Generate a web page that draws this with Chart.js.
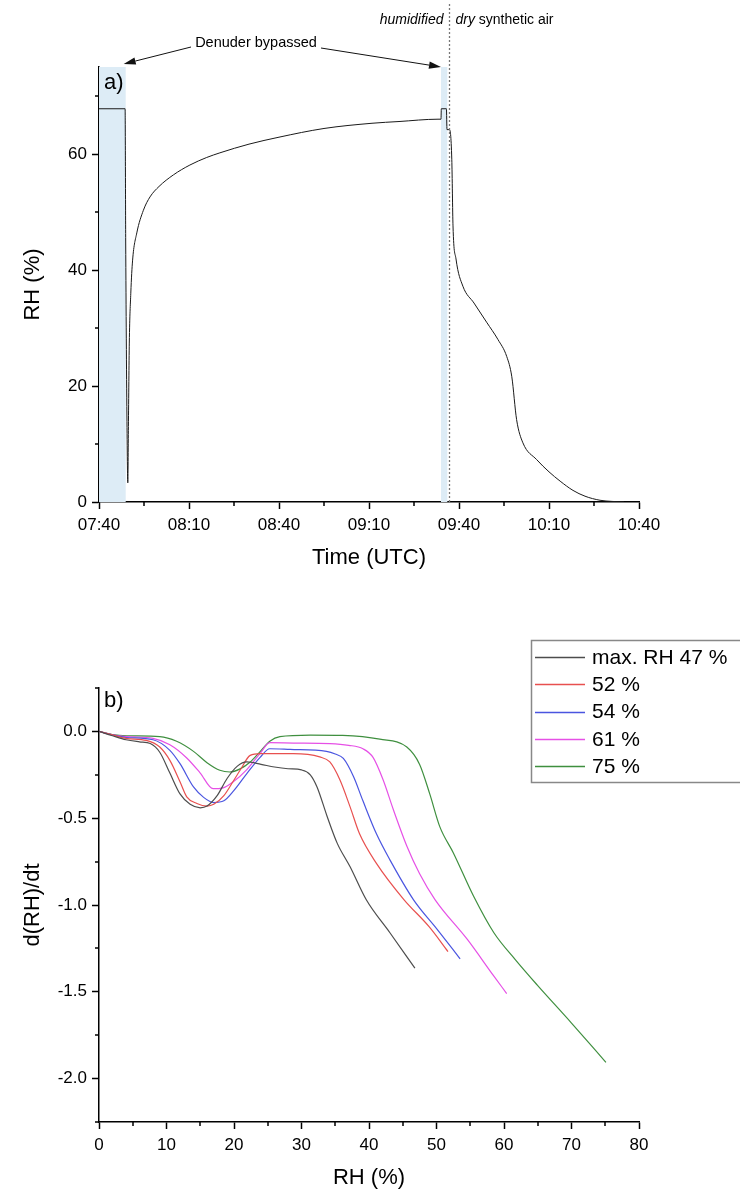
<!DOCTYPE html>
<html>
<head>
<meta charset="utf-8">
<script src="https://cdn.jsdelivr.net/npm/chart.js@4.4.1/dist/chart.umd.min.js"></script>
<style>
  html, body { margin: 0; padding: 0; background: #fff; }
  #wrap { position: relative; width: 740px; height: 1193px; overflow: hidden; }
  canvas { position: absolute; left: 0; }
  #rhTime { top: 0; }
  #rhRate { top: 600px; }
</style>
</head>
<body>
<div id="wrap">
  <canvas id="rhTime" width="740" height="600" style="width:740px;height:600px"></canvas>
  <canvas id="rhRate" width="740" height="593" style="width:740px;height:593px"></canvas>
</div>
<script>
// ---------- panel a): RH over time (minutes after 07:40 UTC) ----------
const timeMin = [0, 8.7, 8.9, 9.3, 9.6, 9.8, 10.1, 10.6, 11.2, 12.6, 14.8, 17, 20, 24.8, 30.3, 35.9, 40.3,
  50, 60, 75, 91, 100, 113, 114, 114.1, 115.8, 116, 116.8, 117.6, 118, 119, 121.3, 125, 129.2, 133,
  135.9, 137.6, 139.2, 141.3, 145.9, 150, 153.7, 158, 162, 167, 171, 175];
const rhPct = [67.8, 67.8, 45, 15, 3.3, 13, 27.4, 36, 41.7, 46.4, 50.3, 52.6, 54.4, 56.4, 58.1, 59.4, 60.2,
  61.7, 62.9, 64.4, 65.3, 65.6, 66, 66, 67.8, 67.8, 64.2, 64.2, 59, 47.6, 41.9, 37.2, 34.3, 31, 28,
  25.1, 21.6, 14.2, 10.2, 7.3, 5.2, 3.6, 2.0, 1.0, 0.3, 0.1, 0];
const timeTicks = [0, 30, 60, 90, 120, 150, 180];
const timeTickLabels = ['07:40', '08:10', '08:40', '09:10', '09:40', '10:10', '10:40'];
const rhTicks = [0, 20, 40, 60];
const bypassBands = [[0, 8.9], [114, 116.1]];   // denuder bypassed intervals (min)
const airSwitchMin = 116.8;                      // humidified -> dry synthetic air

// ---------- panel b): d(RH)/dt against RH ----------
const rh47 = [0, 2, 4, 6, 7.6, 9, 10.5, 12, 13.5, 15, 16, 17.5, 19, 20.5, 21.9, 24, 26, 28, 30, 31.3, 32.3, 33.8, 35.3, 37.2, 39.6, 43.1, 46.8];
const d47  = [0, -0.025, -0.048, -0.06, -0.07, -0.12, -0.24, -0.36, -0.42, -0.44, -0.43, -0.37, -0.27, -0.2, -0.176, -0.19, -0.205, -0.215, -0.222, -0.25, -0.32, -0.49, -0.645, -0.78, -0.97, -1.16, -1.364];
const rh52 = [0, 2, 4, 7, 9, 10.5, 12, 13, 14.5, 16, 17, 18.5, 20, 20.9, 22.4, 23.9, 28.8, 32.7, 34.2, 35.7, 37.2, 38.6, 41.1, 45.2, 48.9, 51.7];
const d52  = [0, -0.02, -0.04, -0.052, -0.09, -0.167, -0.29, -0.377, -0.415, -0.43, -0.42, -0.37, -0.28, -0.224, -0.138, -0.128, -0.128, -0.147, -0.176, -0.28, -0.435, -0.59, -0.76, -0.97, -1.125, -1.268];
const rh54 = [0, 2, 4, 8, 10.5, 12, 14, 15.5, 17, 18.5, 20, 21.9, 23.9, 25.3, 28.3, 33.7, 35, 36.2, 37.7, 39.1, 41.1, 43.1, 46.6, 50.1, 53.5];
const d54  = [0, -0.02, -0.035, -0.048, -0.109, -0.186, -0.32, -0.38, -0.41, -0.4, -0.34, -0.243, -0.148, -0.1, -0.104, -0.115, -0.13, -0.156, -0.26, -0.4, -0.59, -0.74, -0.97, -1.14, -1.31];
const rh61 = [0, 2, 4.1, 8, 10.5, 13, 15, 16.9, 18.4, 19.9, 21.9, 23.9, 25.3, 28.8, 34.2, 37, 39.1, 40.6, 42.1, 43.6, 45.6, 47.5, 49.8, 54.6, 58.5, 60.4];
const d61  = [0, -0.02, -0.03, -0.04, -0.077, -0.153, -0.24, -0.33, -0.325, -0.29, -0.22, -0.125, -0.065, -0.067, -0.07, -0.08, -0.1, -0.15, -0.28, -0.45, -0.66, -0.82, -0.97, -1.2, -1.41, -1.51];
const rh75 = [0, 2, 4.1, 9, 11.5, 14, 16, 17.9, 19.4, 20.9, 22.4, 23.9, 25.3, 26.8, 31.3, 36.1, 41.6, 45.6, 47.5, 49, 50.5, 52.5, 55.5, 58.5, 61.7, 64.9, 70, 75.1];
const d75  = [0, -0.018, -0.025, -0.03, -0.057, -0.115, -0.18, -0.224, -0.234, -0.216, -0.176, -0.115, -0.057, -0.03, -0.021, -0.023, -0.045, -0.09, -0.19, -0.36, -0.55, -0.7, -0.95, -1.16, -1.316, -1.46, -1.68, -1.906];
const seriesLabels = ['max. RH 47 %', '52 %', '54 %', '61 %', '75 %'];
const seriesColors = ['#4d4d4d', '#e8504f', '#4a55e0', '#e650e6', '#3f8f3f'];
const rhAxisTicks = [0, 10, 20, 30, 40, 50, 60, 70, 80];
const rateTicks = [-2, -1.5, -1, -0.5, 0];

const FONT = "'Liberation Sans', Arial, sans-serif";
const pts = (xs, ys) => xs.map((x, i) => ({ x, y: ys[i] }));
const fixTicks = values => axis => { axis.ticks = values.map(v => ({ value: v })); };

// small outward ticks between the labelled ones
const minorTicks = {
  id: 'minorTicks',
  afterDraw(chart, args, opts) {
    const { ctx, chartArea: ca } = chart;
    const xs = chart.scales.x, ys = chart.scales.y;
    ctx.save();
    ctx.strokeStyle = '#000';
    ctx.lineWidth = 1.5;
    ctx.beginPath();
    opts.x.forEach(v => {
      const p = Math.round(xs.getPixelForValue(v));
      ctx.moveTo(p, ca.bottom); ctx.lineTo(p, ca.bottom + 4);
    });
    opts.y.forEach(v => {
      const p = Math.round(ys.getPixelForValue(v));
      ctx.moveTo(ca.left, p); ctx.lineTo(ca.left - 4, p);
    });
    ctx.stroke();
    ctx.restore();
  }
};

function arrow(ctx, x0, y0, x1, y1) {
  const a = Math.atan2(y1 - y0, x1 - x0), L = 12, W = 3.6;
  const bx = x1 - L * Math.cos(a), by = y1 - L * Math.sin(a);
  ctx.beginPath(); ctx.moveTo(x0, y0); ctx.lineTo(bx, by); ctx.stroke();
  ctx.beginPath();
  ctx.moveTo(x1, y1);
  ctx.lineTo(bx + W * Math.sin(a), by - W * Math.cos(a));
  ctx.lineTo(bx - W * Math.sin(a), by + W * Math.cos(a));
  ctx.closePath(); ctx.fill();
}

// bypass bands, air switch marker and notes for panel a)
const timeNotes = {
  id: 'timeNotes',
  beforeDatasetsDraw(chart) {
    const { ctx } = chart;
    const xs = chart.scales.x, ys = chart.scales.y;
    ctx.save();
    ctx.fillStyle = '#ddecf6';
    const yTop = ys.getPixelForValue(75), yBot = ys.getPixelForValue(0);
    bypassBands.forEach(([a, b]) => {
      const x0 = xs.getPixelForValue(a), x1 = xs.getPixelForValue(b);
      ctx.fillRect(x0, yTop, x1 - x0, yBot - yTop);
    });
    ctx.restore();
  },
  afterDraw(chart) {
    const { ctx, chartArea: ca } = chart;
    const xs = chart.scales.x, ys = chart.scales.y;
    const xs0 = Math.round(xs.getPixelForValue(airSwitchMin)) + 0.5;
    ctx.save();
    ctx.strokeStyle = '#777';
    ctx.lineWidth = 1.3;
    ctx.setLineDash([2, 2]);
    ctx.beginPath(); ctx.moveTo(xs0, 4); ctx.lineTo(xs0, ca.bottom); ctx.stroke();
    ctx.setLineDash([]);

    ctx.fillStyle = '#000';
    ctx.textBaseline = 'middle';
    ctx.font = 'italic 14px ' + FONT;
    ctx.textAlign = 'right';
    ctx.fillText('humidified', xs0 - 6, 20);
    ctx.textAlign = 'left';
    ctx.fillText('dry', xs0 + 6, 20);
    const dryW = ctx.measureText('dry ').width;
    ctx.font = '14px ' + FONT;
    ctx.fillText('synthetic air', xs0 + 6 + dryW, 20);

    ctx.font = '14.5px ' + FONT;
    ctx.textAlign = 'center';
    ctx.fillText('Denuder bypassed', 256, 43);

    ctx.strokeStyle = '#111'; ctx.fillStyle = '#111'; ctx.lineWidth = 1;
    const top = ys.getPixelForValue(75);
    arrow(ctx, 191, 47, xs.getPixelForValue(bypassBands[0][1]) - 2, top - 3);
    arrow(ctx, 321, 48, xs.getPixelForValue(bypassBands[1][0]), top);

    ctx.fillStyle = '#000';
    ctx.font = '22px ' + FONT;
    ctx.textAlign = 'left';
    ctx.fillText('a)', ca.left + 5, ca.top + 16);
    ctx.restore();
  }
};

// framed legend and panel tag for panel b)
const rateLegend = {
  id: 'rateLegend',
  afterDraw(chart) {
    const { ctx, chartArea: ca } = chart;
    ctx.save();
    ctx.fillStyle = '#fff';
    ctx.fillRect(531, 40, 216, 142);
    ctx.strokeStyle = '#888';
    ctx.lineWidth = 1.5;
    ctx.strokeRect(531.5, 40.5, 216, 142);
    ctx.font = '21px ' + FONT;
    ctx.textBaseline = 'middle';
    ctx.textAlign = 'left';
    chart.data.datasets.forEach((ds, i) => {
      const y = 57 + i * 27.3;
      ctx.strokeStyle = ds.borderColor;
      ctx.lineWidth = 1.3;
      ctx.beginPath(); ctx.moveTo(535, Math.round(y) + 0.5); ctx.lineTo(585, Math.round(y) + 0.5); ctx.stroke();
      ctx.fillStyle = '#000';
      ctx.fillText(ds.label, 592, y + 1);
    });
    ctx.font = '22px ' + FONT;
    ctx.fillText('b)', ca.left + 5, ca.top + 13);
    ctx.restore();
  }
};

function axisBase(titleText, titlePad) {
  return {
    type: 'linear',
    border: { display: true, color: '#000', width: 1.5 },
    grid: { display: true, drawOnChartArea: false, drawTicks: true, tickLength: 7, tickColor: '#000', tickWidth: 1.5 },
    title: { display: true, text: titleText, color: '#000', font: { family: FONT, size: 22 }, padding: titlePad },
    ticks: { color: '#000', font: { family: FONT, size: 17 }, includeBounds: false, maxRotation: 0, autoSkip: false }
  };
}

// panel a)
const xA = axisBase('Time (UTC)', { top: 0, bottom: 29 });
Object.assign(xA, { min: 0, max: 180, afterFit(s) { s.height = 98; }, afterBuildTicks: fixTicks(timeTicks) });
Object.assign(xA.ticks, { padding: 6,
  callback: v => { const i = timeTicks.indexOf(v); return i >= 0 ? timeTickLabels[i] : ''; } });
const yA = axisBase('RH (%)', { top: 20, bottom: 0 });
Object.assign(yA, { min: 0, max: 75, afterFit(s) { s.width = 99; }, afterBuildTicks: fixTicks(rhTicks) });
Object.assign(yA.ticks, { padding: 5 });

new Chart(document.getElementById('rhTime'), {
  type: 'line',
  data: { datasets: [{
    label: 'RH', data: pts(timeMin, rhPct), borderColor: '#1a1a1a', borderWidth: 1,
    pointRadius: 0, cubicInterpolationMode: 'monotone', fill: false
  }] },
  options: {
    responsive: false, animation: false, devicePixelRatio: 1,
    layout: { padding: { left: 0, right: 101, top: 67, bottom: 0 } },
    scales: { x: xA, y: yA },
    plugins: {
      legend: { display: false }, tooltip: { enabled: false },
      minorTicks: { x: [15, 45, 75, 105, 135, 165], y: [10, 30, 50, 70] }
    }
  },
  plugins: [timeNotes, minorTicks]
});

// panel b)
const xB = axisBase('RH (%)', { top: 0, bottom: 2 });
Object.assign(xB, { min: 0, max: 80, afterFit(s) { s.height = 71; }, afterBuildTicks: fixTicks(rhAxisTicks) });
Object.assign(xB.ticks, { padding: 6 });
const yB = axisBase('d(RH)/dt', { top: 20, bottom: 0 });
Object.assign(yB, { min: -2.25, max: 0.25, afterFit(s) { s.width = 99; }, afterBuildTicks: fixTicks(rateTicks) });
Object.assign(yB.ticks, { padding: 5, callback: v => v.toFixed(1) });

const rateSeries = [[rh47, d47], [rh52, d52], [rh54, d54], [rh61, d61], [rh75, d75]];
new Chart(document.getElementById('rhRate'), {
  type: 'line',
  data: { datasets: rateSeries.map(([xs, ys], i) => ({
    label: seriesLabels[i], data: pts(xs, ys), borderColor: seriesColors[i], borderWidth: 1.2,
    pointRadius: 0, cubicInterpolationMode: 'monotone', fill: false
  })) },
  options: {
    responsive: false, animation: false, devicePixelRatio: 1,
    layout: { padding: { left: 0, right: 101, top: 88, bottom: 0 } },
    scales: { x: xB, y: yB },
    plugins: {
      legend: { display: false }, tooltip: { enabled: false },
      minorTicks: { x: [5, 15, 25, 35, 45, 55, 65, 75], y: [0.25, -0.25, -0.75, -1.25, -1.75, -2.25] }
    }
  },
  plugins: [minorTicks, rateLegend]
});
</script>
</body>
</html>
